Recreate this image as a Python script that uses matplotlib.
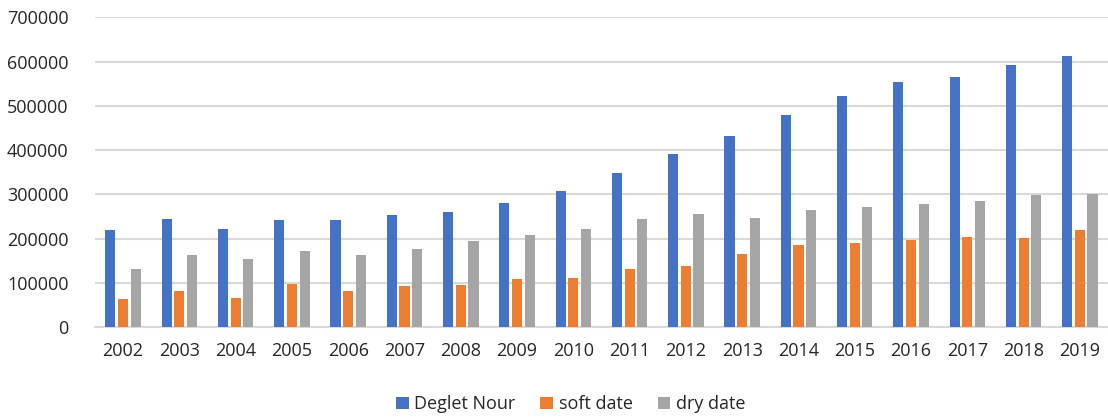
import matplotlib.pyplot as plt
import numpy as np

# data <<<
years = [str(y) for y in range(2002, 2020)]
deglet_nour = [219000, 243000, 220500, 242000, 242000, 254000, 261000, 280000, 307000,
               347000, 392000, 432000, 479000, 523000, 553000, 566000, 592000, 613000]
soft_date = [62500, 81000, 65000, 96500, 82000, 92000, 94000, 108500, 111500,
             130500, 137000, 165500, 185000, 191000, 196000, 203000, 201000, 219000]
dry_date = [131500, 162500, 153000, 172500, 162500, 175500, 193500, 208000, 222000,
            243000, 256000, 246000, 265000, 271000, 278000, 285000, 299000, 301000]
# >>>

plt.rcParams["font.family"] = ["Open Sans", "DejaVu Sans"]

fig = plt.figure(figsize=(11.08, 4.17), dpi=100)
ax = fig.add_axes([0.0857, 0.2158, 0.9143, 0.7427])

x = np.arange(len(years))
w = 0.18
step = 0.225
ax.bar(x - step, deglet_nour, w, color="#4472C4", label="Deglet Nour", zorder=3)
ax.bar(x, soft_date, w, color="#ED7D31", label="soft date", zorder=3)
ax.bar(x + step, dry_date, w, color="#A5A5A5", label="dry date", zorder=3)

ax.set_xlim(-0.5, len(years) - 0.5)
ax.set_ylim(0, 700000)
ax.set_yticks(range(0, 700001, 100000))
ax.set_yticklabels([str(v) for v in range(0, 700001, 100000)])
ax.set_xticks(x)
ax.set_xticklabels(years)
ax.tick_params(length=0, labelsize=13, colors="#262626")
ax.tick_params(axis="y", pad=19)
ax.tick_params(axis="x", pad=11)
ax.yaxis.grid(True, color="#d9d9d9", linewidth=1.5, zorder=0)
for s in ["top", "right", "left"]:
    ax.spines[s].set_visible(False)
ax.spines["bottom"].set_color("#d9d9d9")
ax.spines["bottom"].set_linewidth(1.5)

fig.legend(loc="center", bbox_to_anchor=(0.515, 0.03), ncol=3, frameon=False,
           fontsize=13, handlelength=0.7, handleheight=0.7, handletextpad=0.3,
           columnspacing=1.4, labelcolor="#262626")

plt.savefig("out.png", dpi=100)
